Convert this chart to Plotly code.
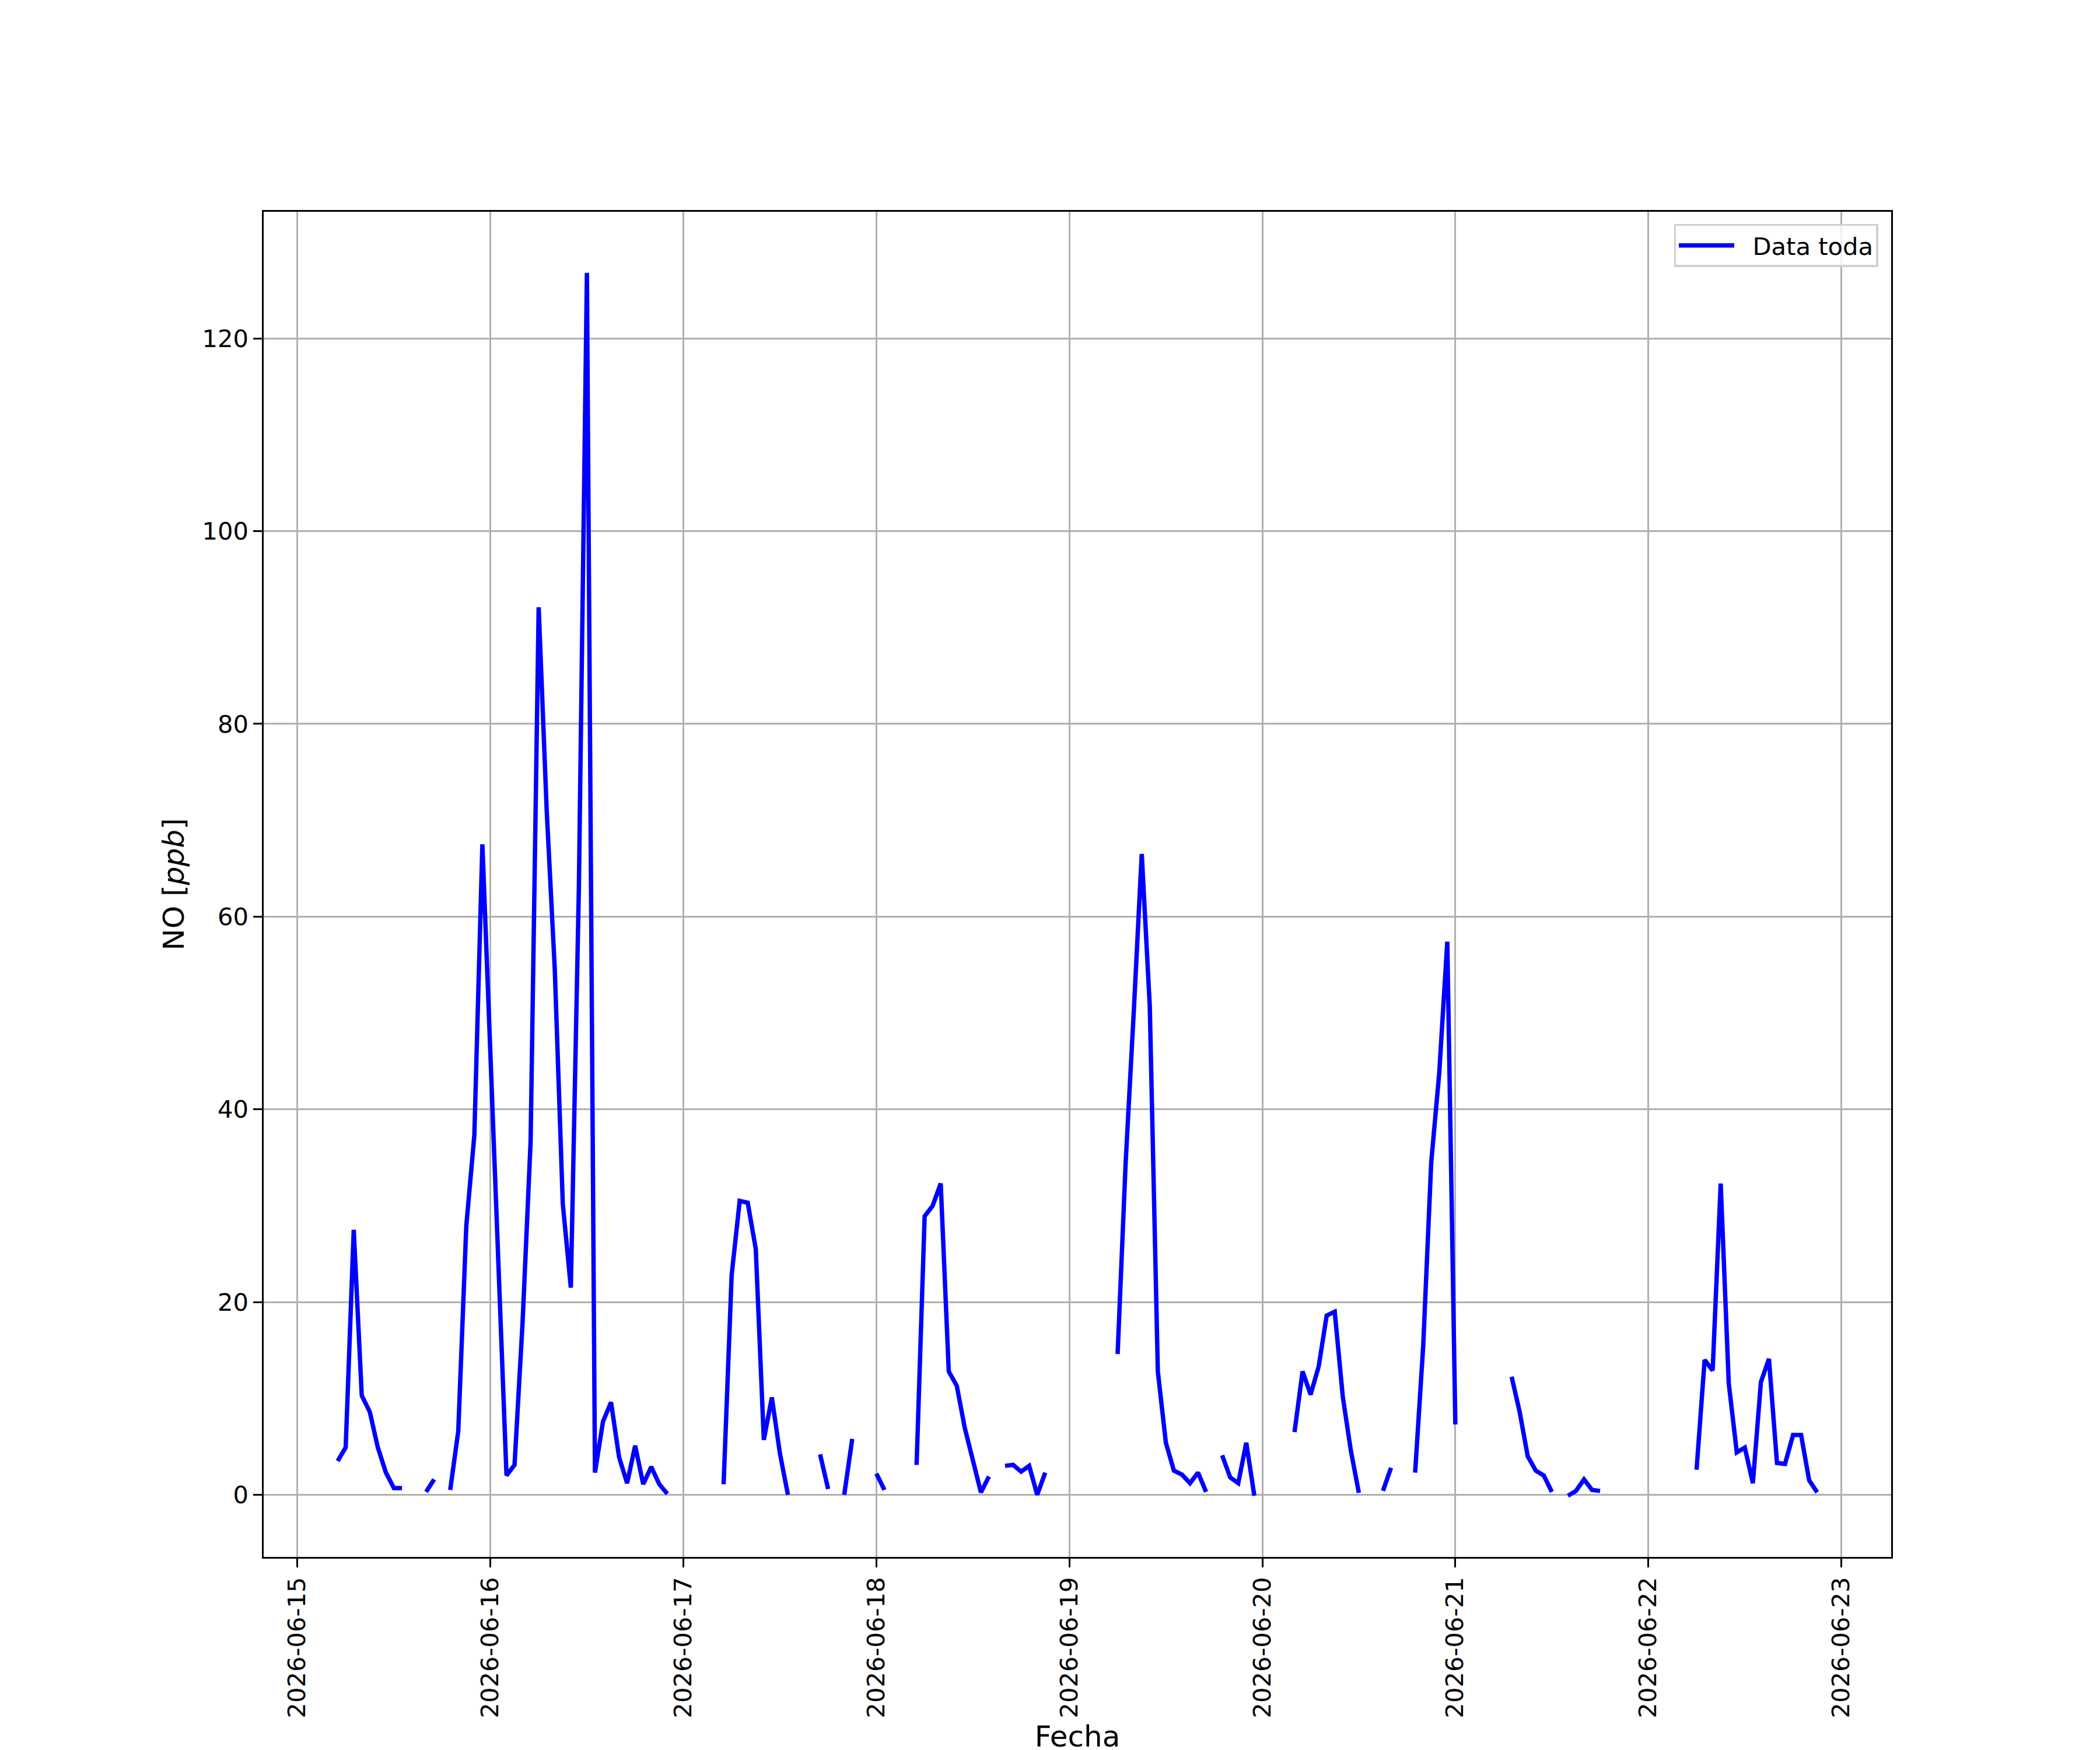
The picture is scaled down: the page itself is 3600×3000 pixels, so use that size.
import pandas as pd
import plotly.graph_objects as go

# hourly NO readings [ppb], one list per day (hours 0..23), None = no data
no_15 = [None, None, None, None, None, 3.5, 4.9, 27.5, 10.3, 8.6, 4.9, 2.3,
         0.7, 0.7, None, None, 0.3, 1.6, None, 0.5, 6.6, 27.9, 37.3, 67.5]
no_16 = [46, 26, 2.0, 3.1, 17.9, 36.7, 92.1, 71, 54.6, 30.2, 21.5, 63,
         126.8, 2.3, 7.6, 9.6, 3.9, 1.2, 5.1, 1.1, 2.9, 1.1, 0.1, None]
no_17 = [None, None, None, None, None, 1.1, 22.8, 30.5, 30.3, 25.5, 5.7, 10.1,
         4.3, 0.0, None, None, None, 4.2, 0.6, None, 0.0, 5.8, None, None]
no_18 = [2.2, 0.5, None, None, None, 3.1, 28.9, 30.0, 32.3, 12.8, 11.3, 6.9,
         3.5, 0.25, 1.9, None, 3.0, 3.1, 2.4, 3.0, 0.0, 2.3, None, None]
no_19 = [None, None, None, None, None, None, 14.6, 34.5, 50, 66.5, 50.7, 12.8,
         5.4, 2.5, 2.1, 1.2, 2.3, 0.3, None, 4.1, 1.8, 1.2, 5.4, -0.1]
no_20 = [None, None, None, None, 6.5, 12.8, 10.4, 13.3, 18.6, 19.0, 10.2, 4.6,
         0.2, None, None, 0.4, 2.8, None, None, 2.3, 15.4, 34.5, 43.8, 57.4]
no_21 = [7.3, None, None, None, None, None, None, 12.25, 8.6, 4.0, 2.5, 2.0,
         0.3, None, -0.1, 0.4, 1.6, 0.5, 0.4, None, None, None, None, None]
no_22 = [None, None, None, None, None, None, 2.6, 14.0, 12.9, 32.3, 11.6, 4.4,
         4.9, 1.2, 11.7, 14.1, 3.3, 3.2, 6.2, 6.2, 1.5, 0.25, None, None]

days = ["2026-06-15", "2026-06-16", "2026-06-17", "2026-06-18",
        "2026-06-19", "2026-06-20", "2026-06-21", "2026-06-22"]
day_ticks = days + ["2026-06-23"]
y_ticks = [0, 20, 40, 60, 80, 100, 120]

values = no_15 + no_16 + no_17 + no_18 + no_19 + no_20 + no_21 + no_22
fechas = pd.date_range(days[0], periods=len(values), freq="h")

PT = 300 / 72  # matplotlib points -> px at 300 dpi
font = "DejaVu Sans"

fig = go.Figure()
fig.add_trace(go.Scatter(x=fechas, y=values, mode="lines",
                         name="\u00a0\u00a0Data toda",
                         line=dict(color="#0000ff", width=7.5),
                         connectgaps=False))

axis_style = dict(showgrid=True, gridcolor="#b0b0b0", gridwidth=0.8 * PT,
                  showline=True, mirror=True, linecolor="black", linewidth=0.8 * PT,
                  ticks="outside", ticklen=3.5 * PT, tickwidth=0.8 * PT, tickcolor="black",
                  zeroline=False, tickfont=dict(family=font, size=10 * PT, color="black"))

fig.update_layout(
    width=3600, height=3000,
    margin=dict(l=444, r=366, t=355, b=330),
    paper_bgcolor="white", plot_bgcolor="white",
    font=dict(family=font, color="black"),
    showlegend=True,
    legend=dict(x=0.992, y=0.991, xanchor="right", yanchor="top",
                bgcolor="rgba(255,255,255,0.8)", bordercolor="#d0d0d0",
                borderwidth=0.8 * PT, font=dict(family=font, size=10 * PT),
                itemwidth=95),
    xaxis=dict(axis_style, type="date",
               range=["2026-06-14 19:48", "2026-06-23 06:12"],
               tickvals=day_ticks, ticktext=day_ticks, tickangle=-90,
               title=dict(text="Fecha", font=dict(family=font, size=12 * PT))),
    yaxis=dict(axis_style, range=[-6.45, 133.15], tickvals=y_ticks,
               title=dict(text="NO [<i>ppb</i>]", font=dict(family=font, size=12 * PT))),
)

fig.write_html("out.html")
